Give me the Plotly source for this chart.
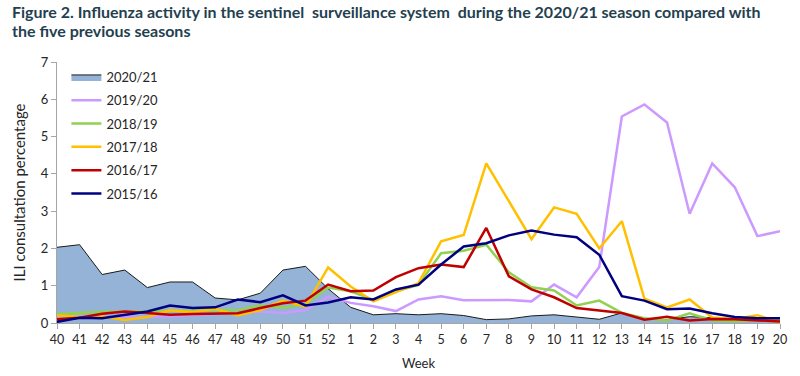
import plotly.graph_objects as go

weeks = ["40","41","42","43","44","45","46","47","48","49","50","51","52",
         "1","2","3","4","5","6","7","8","9","10","11","12","13","14","15","16","17","18","19","20"]

s2020_21 = [2.03,2.10,1.30,1.42,0.95,1.10,1.10,0.67,0.62,0.80,1.42,1.52,0.92,
            0.42,0.22,0.25,0.22,0.25,0.20,0.09,0.11,0.19,0.22,0.17,0.10,0.27,0.11,0.09,0.17,0.14,0.12,0.10,0.08]
s2019_20 = [0.18,0.17,0.18,0.17,0.16,0.18,0.22,0.24,0.26,0.31,0.27,0.35,0.70,
            0.54,0.45,0.32,0.63,0.72,0.61,0.61,0.62,0.58,1.03,0.69,1.50,5.54,5.86,5.38,2.93,4.28,3.64,2.33,2.46]
s2018_19 = [0.24,0.28,0.30,0.30,0.30,0.32,0.33,0.35,0.35,0.47,0.41,0.51,0.95,
            0.85,0.62,0.85,1.02,1.87,1.94,2.10,1.36,0.96,0.87,0.47,0.60,0.27,0.13,0.07,0.26,0.07,0.05,0.08,0.10]
s2017_18 = [0.20,0.17,0.18,0.08,0.16,0.34,0.29,0.38,0.20,0.35,0.60,0.44,1.49,
            0.98,0.58,0.83,1.07,2.19,2.36,4.28,3.28,2.25,3.10,2.93,2.00,2.73,0.65,0.42,0.63,0.15,0.11,0.21,0.01]
s2016_17 = [0.10,0.14,0.25,0.31,0.27,0.22,0.24,0.24,0.26,0.40,0.53,0.60,1.03,
            0.85,0.87,1.23,1.47,1.57,1.50,2.55,1.25,0.90,0.69,0.40,0.33,0.27,0.09,0.17,0.07,0.11,0.10,0.08,0.04]
s2015_16 = [0.03,0.14,0.13,0.23,0.31,0.47,0.40,0.42,0.63,0.56,0.74,0.47,0.55,
            0.69,0.63,0.90,1.03,1.57,2.05,2.14,2.35,2.48,2.37,2.30,1.83,0.72,0.60,0.37,0.39,0.26,0.16,0.13,0.13]

y_ticks = [0,1,2,3,4,5,6,7]
title_lines = ["Figure 2. Influenza activity in the sentinel  surveillance system  during the 2020/21 season compared with",
               "the five previous seasons"]

FONT = "Lato"
TXT = "#262626"

fig = go.Figure()
fig.add_trace(go.Scatter(x=weeks, y=s2020_21, name="2020/21", mode="lines",
                         fill="tozeroy", fillcolor="#95B3D7",
                         line=dict(color="#1a1a1a", width=1), legendgroup="a"))
series = [("2019/20", s2019_20, "#CC99FF"),
          ("2018/19", s2018_19, "#92D050"),
          ("2017/18", s2017_18, "#FFC000"),
          ("2016/17", s2016_17, "#C00000"),
          ("2015/16", s2015_16, "#000080")]
for i, (nm, vals, col) in enumerate(series):
    fig.add_trace(go.Scatter(x=weeks, y=vals, name=nm, mode="lines",
                             line=dict(color=col, width=2.5), legendgroup="g%d" % i))

for j, (txt, yy) in enumerate(zip(title_lines, [1.195, 1.122])):
    fig.add_annotation(text="<b>" + txt + "</b>", xref="paper", yref="paper",
                       x=-0.065, y=yy, xanchor="left", yanchor="middle", showarrow=False,
                       font=dict(family=FONT, size=16, color="#243F4F"))

fig.update_layout(
    width=800, height=376,
    margin=dict(l=57, r=20, t=62, b=53, autoexpand=False),
    paper_bgcolor="white", plot_bgcolor="white",
    font=dict(family=FONT, size=12, color=TXT),
    showlegend=True,
    legend=dict(x=0.013, y=1.0, xanchor="left", yanchor="top",
                bgcolor="rgba(0,0,0,0)", font=dict(size=13, color=TXT),
                tracegroupgap=3.4, itemwidth=30),
)
fig.update_xaxes(type="category", range=[0, 32], showline=True, linecolor="#A6A6A6",
                 linewidth=1, ticks="outside", ticklen=5, tickcolor="#A6A6A6",
                 showgrid=False, zeroline=False, tickangle=0, automargin=False,
                 title=dict(text="Week", font=dict(size=13), standoff=12),
                 tickfont=dict(size=12.5))
fig.update_yaxes(range=[0, 7], tickvals=y_ticks, showline=True, linecolor="#A6A6A6",
                 linewidth=1, ticks="outside", ticklen=5, tickcolor="#A6A6A6",
                 showgrid=False, zeroline=False, ticklabelstandoff=0, automargin=False,
                 title=dict(text="ILI consultation percentage", font=dict(size=15), standoff=11),
                 tickfont=dict(size=13))

fig.write_html("out.html", config={"displayModeBar": False},
               post_script="document.body.style.margin='0';")
